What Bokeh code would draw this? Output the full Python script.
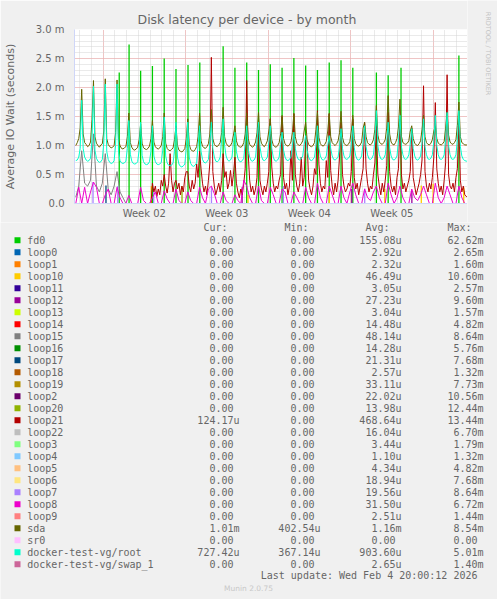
import math
from bokeh.plotting import figure
from bokeh.models import FixedTicker, Range1d, Title
from bokeh.layouts import column, row
from bokeh.embed import file_html
from bokeh.resources import INLINE
from bokeh.core.properties import value

# ---------------- data ----------------
# x axis: days since Monday 2026-01-05 00:00
X_START, X_END = -2.42, 30.92
SAMPLE_T0 = -2.31      # first sample time
FINE_STEP = 0.125      # 3-hourly series
COARSE_STEP = 0.25     # 6-hourly series

week_label_days = [3.5, 10.5, 17.5, 24.5]
week_labels = ["Week 02", "Week 03", "Week 04", "Week 05"]
week_start_days = [0, 7, 14, 21, 28]
day_lines = list(range(-2, 31))

y_ticks = [0.0, 0.5, 1.0, 1.5, 2.0, 2.5, 3.0]
y_tick_labels = ["0.0", "0.5 m", "1.0 m", "1.5 m", "2.0 m", "2.5 m", "3.0 m"]
y_minor = [i / 10 for i in range(0, 31)]

# sda (ms), 3-hourly; one row per day, starting with that day's peak
sda = [1.00, 1.05, 1.12, 1.30,
       1.97, 1.20, 1.05, 1.02, 0.98, 1.00, 1.06, 1.45,
       2.12, 1.15, 1.04, 1.00, 0.97, 1.01, 1.03, 1.25,
       2.15, 1.12, 1.02, 0.98, 0.96, 0.97, 1.00, 1.22,
       2.13, 1.10, 1.00, 0.95, 0.94, 0.96, 0.98, 1.15,
       1.56, 1.05, 0.97, 0.93, 0.92, 0.94, 0.97, 1.10,
       1.37, 1.04, 0.96, 0.94, 0.93, 0.95, 0.99, 1.12,
       1.43, 1.06, 0.98, 0.95, 0.94, 0.96, 1.00, 1.15,
       1.56, 1.04, 0.95, 0.92, 0.91, 0.93, 0.96, 1.10,
       1.34, 1.00, 0.92, 0.90, 0.89, 0.91, 0.95, 1.12,
       1.46, 1.02, 0.93, 0.91, 0.90, 0.93, 0.98, 1.15,
       1.56, 1.08, 0.99, 0.96, 0.95, 0.98, 1.03, 1.20,
       1.62, 1.12, 1.02, 0.99, 0.98, 1.01, 1.05, 1.22,
       1.66, 1.15, 1.04, 1.00, 0.98, 1.00, 1.05, 1.18,
       1.34, 1.08, 1.00, 0.98, 0.97, 0.99, 1.05, 1.20,
       1.56, 1.12, 1.02, 0.99, 0.97, 1.00, 1.06, 1.22,
       1.57, 1.15, 1.04, 1.00, 0.98, 1.02, 1.08, 1.25,
       1.46, 1.10, 1.01, 0.98, 0.97, 1.00, 1.05, 1.20,
       1.52, 1.12, 1.03, 1.00, 0.99, 1.01, 1.06, 1.22,
       1.55, 1.15, 1.04, 1.01, 1.00, 1.03, 1.08, 1.25,
       1.40, 1.10, 1.02, 0.99, 0.98, 1.00, 1.05, 1.28,
       1.57, 1.14, 1.03, 1.00, 0.99, 1.02, 1.07, 1.25,
       1.55, 1.15, 1.05, 1.02, 1.00, 1.03, 1.08, 1.22,
       1.59, 1.14, 1.04, 1.01, 1.00, 1.02, 1.07, 1.25,
       1.52, 1.12, 1.03, 1.00, 0.99, 1.01, 1.06, 1.30,
       1.40, 1.15, 1.05, 1.02, 1.01, 1.04, 1.10, 1.28,
       1.69, 1.18, 1.06, 1.03, 1.02, 1.05, 1.10, 1.30,
       1.86, 1.20, 1.06, 1.02, 1.01, 1.05, 1.12, 1.32,
       1.80, 1.16, 1.05, 1.03, 1.02, 1.04, 1.08, 1.25,
       1.34, 1.12, 1.04, 1.01, 1.00, 1.03, 1.08, 1.28,
       1.52, 1.15, 1.05, 1.02, 1.01, 1.04, 1.10, 1.25,
       1.34, 1.12, 1.04, 1.02, 1.01, 1.03, 1.07, 1.30,
       1.57, 1.18, 1.06, 1.03, 1.02, 1.05, 1.10, 1.35,
       1.75, 1.15, 1.05, 1.03, 1.01, 1.01, 1.01, 1.01]

# docker-test-vg/root (ms), 3-hourly
root = [0.74, 0.75, 0.80, 0.95,
        1.78, 0.95, 0.80, 0.75, 0.73, 0.74, 0.78, 1.10,
        2.02, 0.92, 0.78, 0.73, 0.71, 0.72, 0.76, 1.05,
        2.06, 0.90, 0.76, 0.71, 0.69, 0.70, 0.74, 1.00,
        2.06, 0.88, 0.74, 0.70, 0.69, 0.70, 0.73, 0.95,
        1.43, 0.85, 0.73, 0.69, 0.68, 0.69, 0.72, 0.92,
        1.40, 0.83, 0.72, 0.68, 0.67, 0.68, 0.72, 0.90,
        1.34, 0.82, 0.72, 0.68, 0.67, 0.68, 0.71, 0.92,
        1.49, 0.82, 0.70, 0.66, 0.65, 0.66, 0.70, 0.90,
        1.40, 0.80, 0.68, 0.64, 0.63, 0.65, 0.68, 0.95,
        1.40, 0.80, 0.69, 0.65, 0.64, 0.66, 0.70, 1.00,
        1.34, 0.90, 0.76, 0.71, 0.70, 0.72, 0.76, 1.05,
        1.40, 0.95, 0.80, 0.73, 0.72, 0.74, 0.80, 1.10,
        1.46, 1.00, 0.82, 0.75, 0.73, 0.75, 0.80, 1.05,
        1.23, 0.90, 0.78, 0.73, 0.72, 0.74, 0.78, 1.05,
        1.34, 0.95, 0.80, 0.74, 0.73, 0.75, 0.80, 1.08,
        1.40, 0.98, 0.82, 0.75, 0.74, 0.76, 0.80, 1.05,
        1.34, 0.95, 0.80, 0.74, 0.73, 0.75, 0.80, 1.02,
        1.23, 0.92, 0.80, 0.75, 0.74, 0.76, 0.80, 1.00,
        1.23, 0.95, 0.82, 0.76, 0.75, 0.77, 0.82, 1.02,
        1.17, 0.92, 0.80, 0.75, 0.74, 0.76, 0.80, 1.00,
        1.34, 0.95, 0.82, 0.76, 0.75, 0.77, 0.82, 1.00,
        1.17, 0.95, 0.82, 0.76, 0.75, 0.77, 0.80, 0.98,
        1.29, 0.95, 0.82, 0.77, 0.76, 0.78, 0.82, 1.02,
        1.34, 0.96, 0.82, 0.76, 0.75, 0.77, 0.82, 1.05,
        1.34, 0.98, 0.84, 0.77, 0.76, 0.78, 0.84, 1.10,
        1.60, 1.00, 0.84, 0.77, 0.76, 0.78, 0.84, 1.05,
        1.40, 0.96, 0.82, 0.76, 0.75, 0.77, 0.82, 1.08,
        1.52, 0.98, 0.84, 0.77, 0.76, 0.78, 0.84, 1.02,
        1.29, 0.95, 0.82, 0.76, 0.75, 0.77, 0.82, 1.05,
        1.46, 0.98, 0.84, 0.77, 0.76, 0.78, 0.84, 1.08,
        1.52, 1.00, 0.84, 0.77, 0.76, 0.78, 0.84, 1.10,
        1.57, 1.00, 0.84, 0.77, 0.76, 0.78, 0.84, 1.10,
        1.60, 0.98, 0.82, 0.76, 0.74, 0.73, 0.73, 0.73]

# loop21 (ms), 3-hourly, starting at sample index 51 (day 4)
LOOP21_FIRST = 51
loop21 = [0.00,
          0.35, 0.20, 0.30, 0.12, 0.25, 0.15, 0.40, 0.30,
          0.50, 0.30, 0.18, 0.35, 0.86, 0.40, 0.20, 0.35,
          0.40, 0.25, 0.35, 0.15, 0.30, 0.20, 0.45, 0.55,
          0.55, 0.30, 0.20, 0.40, 0.25, 0.35, 0.68, 0.45,
          0.90, 0.60, 0.35, 0.20, 0.30, 0.15, 0.40, 0.70,
          2.52, 0.55, 0.30, 0.15, 0.25, 0.35, 0.20, 0.40,
          0.86, 0.45, 0.55, 0.25, 0.35, 0.57, 0.30, 0.50,
          0.80, 0.35, 0.20, 0.10, 0.25, 0.15, 0.35, 0.60,
          2.12, 0.86, 0.40, 0.20, 0.30, 0.15, 0.25, 0.45,
          1.40, 0.40, 0.25, 0.15, 0.30, 0.20, 0.35, 0.55,
          1.46, 0.63, 0.35, 0.20, 0.30, 0.25, 0.40, 0.50,
          1.50, 0.45, 0.25, 0.35, 0.15, 0.30, 0.91, 0.40,
          1.55, 0.50, 0.30, 0.20, 0.35, 0.80, 0.30, 0.45,
          1.17, 1.08, 0.40, 0.25, 0.15, 0.30, 0.60, 0.50,
          1.60, 0.68, 0.35, 0.20, 0.30, 0.25, 0.74, 0.45,
          1.55, 0.57, 0.30, 0.15, 0.35, 0.20, 0.40, 0.80,
          1.40, 0.50, 0.30, 0.20, 0.25, 0.35, 0.30, 0.55,
          1.46, 0.45, 0.25, 0.35, 0.15, 0.30, 0.45, 0.60,
          1.40, 0.60, 0.35, 0.20, 0.30, 0.25, 0.50, 0.70,
          1.34, 0.50, 0.30, 0.15, 0.35, 0.20, 0.40, 0.65,
          1.57, 0.55, 0.30, 0.20, 0.30, 0.15, 0.45, 0.60,
          1.45, 0.50, 0.25, 0.35, 0.20, 0.30, 0.40, 0.55,
          1.30, 0.45, 0.30, 0.15, 0.25, 0.35, 0.50, 0.75,
          2.03, 0.55, 0.30, 0.20, 0.35, 0.25, 0.45, 0.80,
          1.74, 0.60, 0.35, 0.20, 0.30, 0.15, 0.40, 0.70,
          2.22, 0.50, 0.30, 0.25, 0.35, 0.20, 0.45, 0.60,
          1.46, 0.40, 0.20, 0.30, 0.15, 0.12, 0.12, 0.12]

# loop8 (ms), 6-hourly
loop8 = [0.00, 0.28,
         0.00, 0.28, 0.00, 0.20,  0.37, 0.28, 0.00, 0.00,  0.15, 0.25, 0.00, 0.00,
         0.28, 0.10, 0.00, 0.00,  0.14, 0.00, 0.00, 0.00,  0.28, 0.05, 0.00, 0.00,
         0.10, 0.20, 0.00, 0.00,  0.22, 0.08, 0.00, 0.00,  0.25, 0.05, 0.00, 0.00,
         0.20, 0.05, 0.00, 0.00,  0.28, 0.10, 0.00, 0.25,  0.30, 0.17, 0.00, 0.00,
         0.20, 0.05, 0.00, 0.00,  0.15, 0.05, 0.00, 0.40,  0.30, 0.10, 0.00, 0.00,
         0.30, 0.05, 0.00, 0.00,  0.28, 0.15, 0.00, 0.00,  0.25, 0.20, 0.00, 0.00,
         0.20, 0.10, 0.00, 0.00,  0.28, 0.10, 0.00, 0.00,  0.35, 0.10, 0.00, 0.00,
         0.30, 0.15, 0.00, 0.00,  0.30, 0.10, 0.00, 0.20,  0.35, 0.15, 0.00, 0.00,
         0.25, 0.10, 0.05, 0.20,  0.30, 0.10, 0.00, 0.00,  0.35, 0.15, 0.00, 0.10,
         0.30, 0.10, 0.00, 0.00,  0.25, 0.10, 0.05, 0.15,  0.30, 0.15, 0.00, 0.00,
         0.35, 0.10, 0.00, 0.10,  0.30, 0.15, 0.00, 0.00,  0.30, 0.10, 0.00, 0.00]

# loop15 (ms), 6-hourly, first days only
loop15 = [0.11, 0.30,
          0.91, 0.35, 0.30, 0.40,  1.20, 0.30, 0.20, 0.35,  0.86, 0.25, 0.15, 0.30,
          0.55, 0.20, 0.10, 0.00]

# fd0 daily spikes
fd0_days = [1.375, 2.21, 3.19, 4.19, 5.19, 6.19, 7.21, 8.21, 10.19, 11.19, 12.19,
            13.19, 14.19, 15.19, 16.19, 17.19, 18.19, 19.19, 20.19, 21.19, 23.19,
            24.19, 25.28, 30.19]
fd0_peak = [2.26, 2.74, 2.29, 2.37, 2.50, 2.32, 2.39, 2.43, 2.71, 2.34, 2.43,
            2.30, 2.40, 2.34, 2.51, 2.38, 2.30, 2.43, 2.47, 2.34, 2.26,
            2.21, 2.34, 2.55]

# small occasional spikes
loop7_days = [-0.85, 1.25, 4.3, 9.2, 15.3, 22.2]
loop7_peak = [0.37, 0.30, 0.25, 0.28, 0.30, 0.26]
loop10_days = [4.1, 12.3, 19.2, 23.9, 27.0, 28.0, 30.6]
loop10_peak = [0.30, 0.15, 0.20, 0.25, 0.31, 0.34, 0.28]
loop12_days = [11.8, 21.1, 26.2]
loop12_peak = [0.28, 0.25, 0.22]
loop20_days = [6.7]
loop20_peak = [0.30]
loop17_days = [0.25]
loop17_peak = [0.31]

# legend table
legend_names = ["fd0", "loop0", "loop1", "loop10", "loop11", "loop12", "loop13",
                "loop14", "loop15", "loop16", "loop17", "loop18", "loop19", "loop2",
                "loop20", "loop21", "loop22", "loop3", "loop4", "loop5", "loop6",
                "loop7", "loop8", "loop9", "sda", "sr0", "docker-test-vg/root",
                "docker-test-vg/swap_1"]
legend_colors = ["#00CC00", "#0066B3", "#FF8000", "#FFCC00", "#330099", "#990099",
                 "#CCFF00", "#FF0000", "#808080", "#008F00", "#00487D", "#B35A00",
                 "#B38F00", "#6B006B", "#8FB300", "#B30000", "#BEBEBE", "#80FF80",
                 "#80C9FF", "#FFC080", "#FFE680", "#AA80FF", "#EE00CC", "#FF8080",
                 "#666600", "#FFBFFF", "#00FFCC", "#CC6699"]
cur_vals = ["0.00"] * 15 + ["124.17u"] + ["0.00"] * 8 + ["1.01m", "0.00", "727.42u", "0.00"]
min_vals = ["0.00"] * 24 + ["402.54u", "0.00", "367.14u", "0.00"]
avg_vals = ["155.08u", "2.92u", "2.32u", "46.49u", "3.05u", "27.23u", "3.04u",
            "14.48u", "48.14u", "14.28u", "21.31u", "2.57u", "33.11u", "22.02u",
            "13.98u", "468.64u", "16.04u", "3.44u", "1.10u", "4.34u", "18.94u",
            "19.56u", "31.50u", "2.51u", "1.16m", "0.00", "903.60u", "2.65u"]
max_vals = ["62.62m", "2.65m", "1.60m", "10.60m", "2.57m", "9.60m", "1.57m",
            "4.82m", "8.64m", "5.76m", "7.68m", "1.32m", "7.73m", "10.56m",
            "12.44m", "13.44m", "6.70m", "1.79m", "1.32m", "4.82m", "7.68m",
            "8.64m", "6.72m", "1.44m", "8.54m", "0.00", "5.01m", "1.40m"]
title_text = "Disk latency per device - by month"
side_text = "RRDTOOL / TOBI OETIKER"
last_update = "Last update: Wed Feb  4 20:00:12 2026"
footer_text = "Munin 2.0.75"

COL = dict(zip(legend_names, legend_colors))
FONT = "DejaVu Sans"
MONO = "DejaVu Sans Mono"
TXT = "#666666"
BG = "#F0F0F0"

PAGE_W, PAGE_H = 497, 599
TOP_H = 222
SIDE_W = 30

# ---------------- chart ----------------
p = figure(width=PAGE_W - SIDE_W, height=TOP_H, x_range=Range1d(X_START, X_END),
           y_range=Range1d(0, 3.0), output_backend="svg", toolbar_location=None,
           min_border_left=67, min_border_right=0, min_border_top=29,
           min_border_bottom=19)
p.frame_align = False
p.background_fill_color = "white"
p.border_fill_color = BG
p.outline_line_color = None

p.title = Title(text=title_text, align="left", offset=63, standoff=5,
                text_font=FONT, text_font_size="12.5px", text_font_style="normal",
                text_color=TXT)

p.xaxis.ticker = FixedTicker(ticks=week_label_days)
p.xaxis.major_label_overrides = dict(zip(week_label_days, week_labels))
p.yaxis.ticker = FixedTicker(ticks=y_ticks, minor_ticks=y_minor)
p.yaxis.major_label_overrides = dict(zip(y_ticks, y_tick_labels))
for ax in (p.xaxis, p.yaxis):
    ax.major_tick_line_color = None
    ax.minor_tick_line_color = None
    ax.major_tick_out = 0
    ax.major_tick_in = 0
    ax.axis_line_color = "#CFD6F8"
    ax.major_label_text_font = FONT
    ax.major_label_text_font_size = "10px"
    ax.major_label_text_color = TXT
p.xaxis.major_label_standoff = 4
p.yaxis.major_label_standoff = 6
p.yaxis.axis_label = "Average IO Wait (seconds)"
p.yaxis.axis_label_text_font = FONT
p.yaxis.axis_label_text_font_size = "11px"
p.yaxis.axis_label_text_font_style = "normal"
p.yaxis.axis_label_text_color = TXT
p.yaxis.axis_label_standoff = 16

p.xgrid.ticker = FixedTicker(ticks=week_start_days, minor_ticks=day_lines)
for g in (p.xgrid, p.ygrid):
    g.grid_line_color = "#F4A0A0"
    g.grid_line_dash = "1 1"
    g.minor_grid_line_color = "#D4D4D4"
    g.minor_grid_line_dash = "1 1"


def times(n, step, first=0):
    return [SAMPLE_T0 + step * (first + k) for k in range(n)]


p.segment(x0=fd0_days, y0=[0] * len(fd0_days), x1=fd0_days, y1=fd0_peak,
          line_color=COL["fd0"], line_width=1.3)
for name, d, v in [("loop7", loop7_days, loop7_peak), ("loop10", loop10_days, loop10_peak),
                   ("loop12", loop12_days, loop12_peak), ("loop17", loop17_days, loop17_peak),
                   ("loop20", loop20_days, loop20_peak)]:
    p.segment(x0=d, y0=[0] * len(d), x1=d, y1=v, line_color=COL[name], line_width=1.3)
p.line(times(len(loop15), COARSE_STEP), loop15, line_color=COL["loop15"], line_width=1)
p.line(times(len(loop21), FINE_STEP, LOOP21_FIRST), loop21, line_color=COL["loop21"],
       line_width=1)
p.line(times(len(loop8), COARSE_STEP), loop8, line_color=COL["loop8"], line_width=1)
p.line(times(len(sda), FINE_STEP), sda, line_color=COL["sda"], line_width=1)
p.line(times(len(root), FINE_STEP), root, line_color=COL["docker-test-vg/root"],
       line_width=1)
p.line([X_START, X_END], [0, 0], line_color=COL["docker-test-vg/swap_1"], line_width=1)

# right strip with the vertical RRDtool credit
s = figure(width=SIDE_W, height=TOP_H, x_range=Range1d(0, SIDE_W),
           y_range=Range1d(TOP_H, 0), output_backend="svg", toolbar_location=None,
           min_border=0, x_axis_location=None, y_axis_location=None)
s.frame_align = False
s.grid.visible = False
s.outline_line_color = None
s.background_fill_color = BG
s.border_fill_color = BG
s.text(x=[20.5], y=[53], text=[side_text], angle=-math.pi / 2, text_align="center",
       text_baseline="middle", text_font=value(FONT), text_font_size="6.5px",
       text_color="#C4C4C4")

# ---------------- legend ----------------
LH = PAGE_H - TOP_H
q = figure(width=PAGE_W, height=LH, x_range=Range1d(0, PAGE_W), y_range=Range1d(LH, 0),
           output_backend="svg", toolbar_location=None, min_border=0,
           x_axis_location=None, y_axis_location=None)
q.frame_align = False
q.grid.visible = False
q.outline_line_color = None
q.background_fill_color = BG
q.border_fill_color = BG

row_y = [17.7 + 12 * i for i in range(len(legend_names))]
q.rect(x=[17] * len(row_y), y=row_y, width=6, height=6,
       fill_color=legend_colors, line_color=None)
mono = dict(text_font=value(MONO), text_font_size="10px", text_color=TXT,
            text_baseline="middle")
q.text(x=[26.7] * len(row_y), y=row_y, text=legend_names, text_align="left", **mono)
col_end = [239, 320, 401, 483]
q.text(x=[e - 12 for e in col_end], y=[5.3] * 4, text=["Cur:", "Min:", "Avg:", "Max:"],
       text_align="right", **mono)
for e, vals in zip(col_end, [cur_vals, min_vals, avg_vals, max_vals]):
    xs = [e if v[-1] in "um" else e - 6 for v in vals]
    q.text(x=xs, y=row_y, text=vals, text_align="right", **mono)
q.text(x=[483], y=[353.3], text=[last_update], text_align="right", **mono)
q.text(x=[248], y=[366], text=[footer_text], text_align="center",
       text_baseline="middle", text_font=value(FONT), text_font_size="7.5px",
       text_color="#C8C8C8")

layout = column(row(p, s, spacing=0), q, spacing=0)
open("out.html", "w").write(file_html(layout, INLINE))
